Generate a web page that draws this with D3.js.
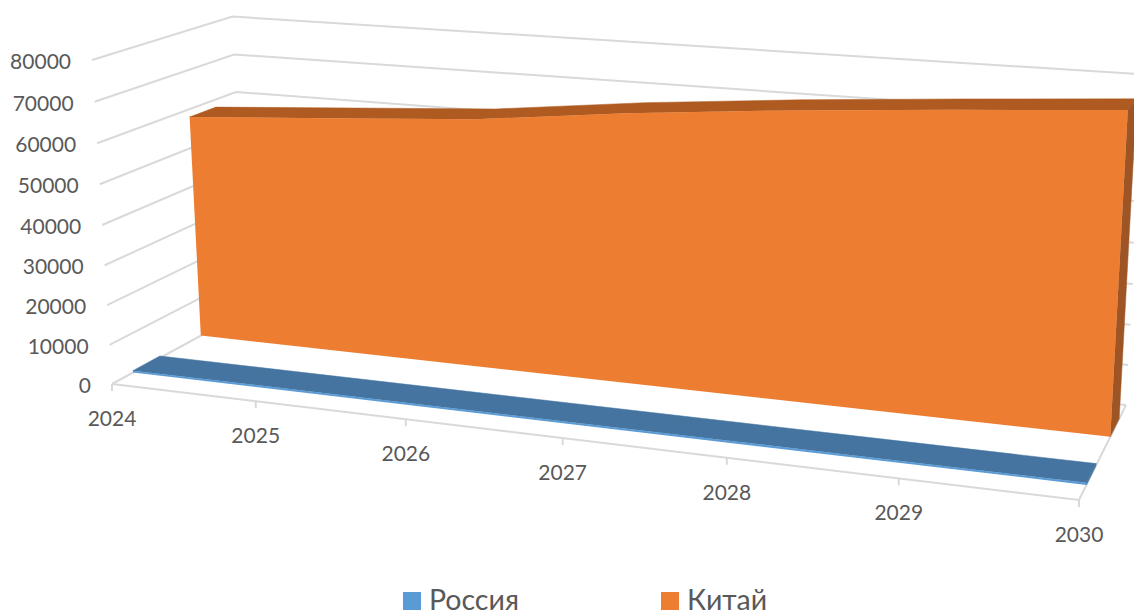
<!DOCTYPE html>
<html>

<head>
    <meta charset="utf-8">
    <title>Россия / Китай</title>
    <script src="https://d3js.org/d3.v7.min.js"></script>
    <style>
        html, body { margin: 0; padding: 0; background: #fff; overflow: hidden; }
        svg { display: block; }
        text { font-family: Lato, "Open Sans", sans-serif; fill: #595959; }
    </style>
</head>

<body>
    <svg width="1134" height="612"></svg>
    <script>
        const years = [2024, 2025, 2026, 2027, 2028, 2029, 2030]
        const russia = [500, 500, 500, 500, 500, 500, 500]
        const china = [58000, 60500, 63000, 67300, 70700, 73600, 76300]
        const yTicks = [0, 10000, 20000, 30000, 40000, 50000, 60000, 70000, 80000]
        const seriesNames = ["Россия", "Китай"]

        const svg = d3.select("svg")

        // scales go to the unit box, project() turns that into the screen
        const xScale = d3.scalePoint().domain(years).range([0, 1])
        const yScale = d3.scaleLinear().domain([0, 80000]).range([0, 1])
        const depth = { russia: [0.144, 0.335], china: [0.64, 0.84] }

        // floor corners of the box as they appear on screen
        const p00 = [112, 384], p10 = [1079, 500], p01 = [246, 311], p11 = [1126, 405]
        const top00 = [92, 60]
        const cv = -0.036

        const dx1 = p10[0] - p11[0], dx2 = p01[0] - p11[0], sx = p00[0] - p10[0] + p11[0] - p01[0]
        const dy1 = p10[1] - p11[1], dy2 = p01[1] - p11[1], sy = p00[1] - p10[1] + p11[1] - p01[1]
        const det = dx1 * dy2 - dx2 * dy1
        const cu = (sx * dy2 - dx2 * sy) / det
        const cd = (dx1 * sy - sx * dy1) / det
        const Pu = [p10[0] * (1 + cu) - p00[0], p10[1] * (1 + cu) - p00[1]]
        const Pd = [p01[0] * (1 + cd) - p00[0], p01[1] * (1 + cd) - p00[1]]
        const Pv = [top00[0] * (1 + cv) - p00[0], top00[1] * (1 + cv) - p00[1]]

        const project = (u, v, d) => {
            const w = 1 + cu * u + cv * v + cd * d
            return [
                (p00[0] + Pu[0] * u + Pv[0] * v + Pd[0] * d) / w,
                (p00[1] + Pu[1] * u + Pv[1] * v + Pd[1] * d) / w
            ]
        }

        const line = d3.line()
        const grid = svg.append("g").attr("fill", "none").attr("stroke", "#d9d9d9").attr("stroke-width", 2)

        // walls
        yTicks.forEach(t => {
            const v = yScale(t)
            grid.append("path").attr("d", line([project(0, v, 0), project(0, v, 1), project(1, v, 1)]))
        })
        // floor front and right edge
        grid.append("path").attr("d", line([project(0, 0, 0), project(1, 0, 0), project(1, 0, 1)]))
        // year ticks
        years.forEach(y => {
            const u = xScale(y)
            const a = project(u, 0, 0)
            grid.append("path").attr("d", line([a, [a[0], a[1] + 7]]))
        })

        const drawArea = (values, band, front, top, side) => {
            const g = svg.append("g")
            const d0 = band[0], d1 = band[1]
            const frontTop = years.map((y, i) => project(xScale(y), yScale(values[i]), d0))
            const backTop = years.map((y, i) => project(xScale(y), yScale(values[i]), d1))
            const last = years.length - 1
            // top surface
            g.append("path").attr("fill", top).attr("stroke", top).attr("stroke-width", 0.5)
                .attr("d", line(frontTop.concat(backTop.slice().reverse())) + "Z")
            // right end
            g.append("path").attr("fill", side).attr("stroke", side).attr("stroke-width", 0.5)
                .attr("d", line([
                    project(1, 0, d0), project(1, 0, d1),
                    backTop[last], frontTop[last]
                ]) + "Z")
            // front
            g.append("path").attr("fill", front)
                .attr("d", line([project(0, 0, d0)].concat(frontTop, [project(1, 0, d0)])) + "Z")
        }

        drawArea(china, depth.china, "#ed7d31", "#ae5a21", "#9d5525")
        drawArea(russia, depth.russia, "#5b9bd5", "#44749f", "#44749f")

        // value labels
        yTicks.forEach(t => {
            const p = project(0, yScale(t), 0)
            svg.append("text")
                .attr("x", p[0] - 21)
                .attr("y", p[1] + 9)
                .attr("text-anchor", "end")
                .attr("font-size", 21)
                .text(t)
        })
        // year labels
        years.forEach(y => {
            const p = project(xScale(y), 0, 0)
            svg.append("text")
                .attr("x", p[0])
                .attr("y", p[1] + 42)
                .attr("text-anchor", "middle")
                .attr("font-size", 21)
                .text(y)
        })

        // legend
        const legendX = d3.scaleOrdinal().domain(seriesNames).range([403, 661])
        const legendColor = d3.scaleOrdinal().domain(seriesNames).range(["#5b9bd5", "#ed7d31"])
        seriesNames.forEach(n => {
            svg.append("rect")
                .attr("x", legendX(n)).attr("y", 592)
                .attr("width", 18).attr("height", 18)
                .attr("fill", legendColor(n))
            svg.append("text")
                .attr("x", legendX(n) + 26).attr("y", 610)
                .attr("font-size", 28.5)
                .text(n)
        })
    </script>
</body>

</html>
